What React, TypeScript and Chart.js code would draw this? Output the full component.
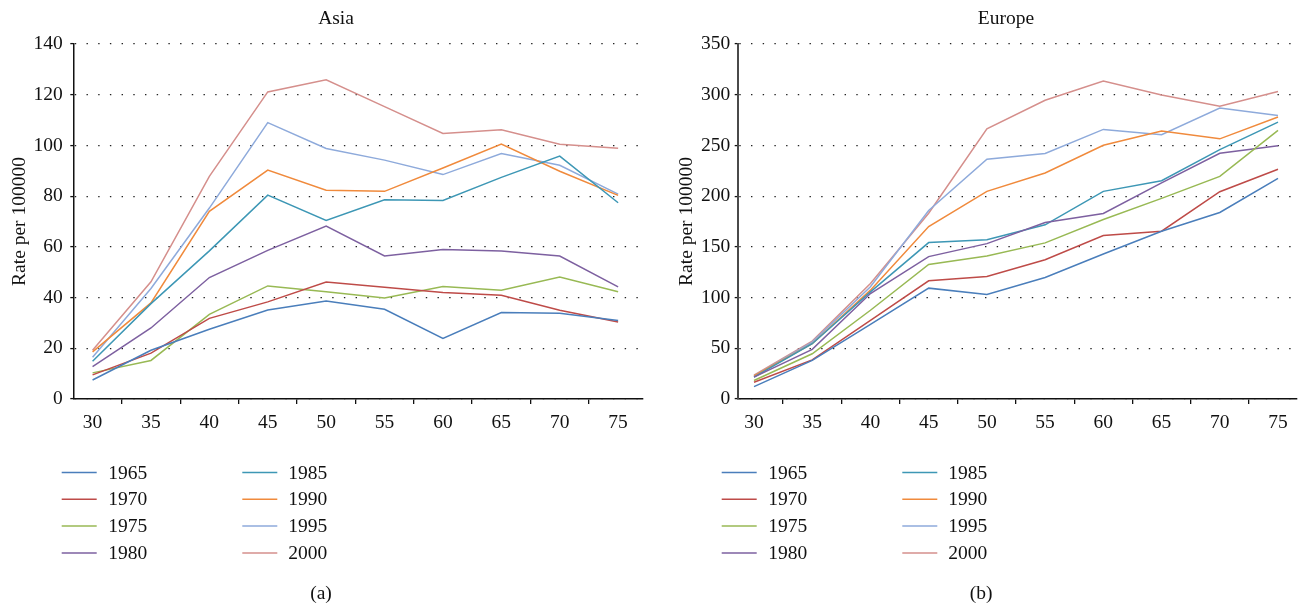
import React, { useEffect, useRef } from "react";
import { Chart, registerables } from "chart.js";

Chart.register(...registerables);

// ---------- data ----------
const ages = [30, 35, 40, 45, 50, 55, 60, 65, 70, 75];
const years = ["1965", "1970", "1975", "1980", "1985", "1990", "1995", "2000"];
const yearColors = ["#4a7ebb", "#be4b48", "#98b954", "#7d60a0", "#3d97b5", "#f08a3c", "#8eaadb", "#d58f8c"];

const asia1965 = [7.5, 19.2, 27.5, 35.1, 38.6, 35.4, 23.9, 34.1, 33.8, 31.0];
const asia1970 = [9.5, 18.1, 31.8, 38.3, 46.1, 44.1, 42.0, 40.9, 35.0, 30.4];
const asia1975 = [10.3, 15.2, 33.4, 44.6, 42.3, 39.8, 44.4, 42.9, 48.1, 42.3];
const asia1980 = [12.8, 28.0, 47.9, 58.6, 68.2, 56.4, 59.0, 58.4, 56.4, 44.2];
const asia1985 = [14.9, 37.6, 58.4, 80.4, 70.4, 78.6, 78.3, 87.4, 95.8, 77.4];
const asia1990 = [18.6, 37.9, 74.0, 90.3, 82.3, 81.9, 91.1, 100.5, 89.8, 80.3];
const asia1995 = [16.5, 43.6, 75.3, 109.0, 98.8, 94.2, 88.5, 96.8, 92.2, 80.8];
const asia2000 = [19.2, 46.2, 87.8, 121.1, 125.9, 115.3, 104.7, 106.2, 100.5, 98.9];

const europe1965 = [12.2, 38.0, 73.6, 109.3, 103.0, 119.8, 143.0, 165.4, 183.9, 217.6];
const europe1970 = [16.5, 38.6, 77.6, 116.5, 120.8, 137.3, 161.1, 165.4, 204.4, 226.5];
const europe1975 = [18.2, 44.6, 87.5, 132.7, 141.0, 153.9, 177.0, 197.8, 219.5, 264.8];
const europe1980 = [21.5, 48.9, 104.0, 140.4, 153.2, 174.0, 182.9, 213.0, 242.3, 249.6];
const europe1985 = [21.5, 54.5, 105.6, 154.2, 157.1, 171.7, 204.7, 215.2, 245.9, 273.0];
const europe1990 = [22.8, 54.5, 107.3, 170.0, 204.7, 222.8, 250.2, 264.1, 256.5, 278.0];
const europe1995 = [22.8, 56.1, 110.6, 185.9, 236.4, 242.0, 265.8, 260.5, 286.9, 279.6];
const europe2000 = [23.4, 57.1, 113.9, 183.2, 266.4, 294.5, 313.6, 299.8, 288.6, 303.1];

const asiaSeries = [asia1965, asia1970, asia1975, asia1980, asia1985, asia1990, asia1995, asia2000];
const europeSeries = [europe1965, europe1970, europe1975, europe1980, europe1985, europe1990, europe1995, europe2000];

const yAxisTitle = "Rate per 100000";

// ---------- layout / style ----------
const FONT = '"Liberation Serif", "Times New Roman", serif';
const FS = 19.5;

type Panel = {
  title: string;
  caption: string;
  series: number[][];
  yMax: number;
  yStep: number;
  left: number;
  width: number;
  xMin: number;
  xMax: number;
  padRight: number;
  yAxisWidth: number;
  titleX: number;
  yTitlePad: number;
  yTickPad: number;
  axisColor: string;
  axisWidth: number;
  lineX: number[];
  textX: number[];
  captionX: number;
};

const panels: Panel[] = [
  {
    title: "Asia", caption: "(a)", series: asiaSeries, yMax: 140, yStep: 20,
    left: 0, width: 664, xMin: 28.35, xMax: 77.07, padRight: 21.7, yAxisWidth: 73.3,
    titleX: 336, yTitlePad: 8.6, yTickPad: 7.6, axisColor: "#111", axisWidth: 1.5,
    lineX: [61.7, 242.3], textX: [108.3, 288.3], captionX: 321,
  },
  {
    title: "Europe", caption: "(b)", series: europeSeries, yMax: 350, yStep: 50,
    left: 664, width: 634, xMin: 28.6, xMax: 76.63, padRight: 1, yAxisWidth: 73.7,
    titleX: 342, yTitlePad: 11.3, yTickPad: 4.5, axisColor: "#4a4a4a", axisWidth: 2,
    lineX: [57.7, 238.3], textX: [104.3, 284.3], captionX: 317,
  },
];

function decorPlugin(p: Panel) {
  return {
    id: "decor" + p.title,
    afterDraw(chart: any) {
      const ctx = chart.ctx as CanvasRenderingContext2D;
      ctx.save();
      ctx.fillStyle = "#111";
      ctx.font = `${FS}px ${FONT}`;
      ctx.textBaseline = "middle";
      ctx.textAlign = "center";
      ctx.fillText(p.title, p.titleX, 19);
      ctx.fillText(p.caption, p.captionX, 594);
      ctx.textAlign = "left";
      chart.data.datasets.forEach((ds: any, i: number) => {
        const col = Math.floor(i / 4);
        const row = i % 4;
        const y = 472.5 + row * 26.8;
        ctx.strokeStyle = ds.borderColor;
        ctx.lineWidth = 1.5;
        ctx.beginPath();
        ctx.moveTo(p.lineX[col], y);
        ctx.lineTo(p.lineX[col] + 35, y);
        ctx.stroke();
        ctx.fillStyle = "#111";
        ctx.fillText(ds.label, p.textX[col], y + 1);
      });
      ctx.restore();
    },
  };
}

function PanelChart({ p }: { p: Panel }) {
  const ref = useRef<HTMLCanvasElement | null>(null);
  useEffect(() => {
    if (!ref.current) return;
    const chart = new Chart(ref.current, {
      type: "line",
      data: {
        datasets: p.series.map((vals, i) => ({
          label: years[i],
          data: vals.map((v, j) => ({ x: ages[j], y: v })),
          borderColor: yearColors[i],
          backgroundColor: yearColors[i],
          borderWidth: 1.5,
          pointRadius: 0,
          pointHoverRadius: 0,
          tension: 0,
          fill: false,
        })),
      },
      options: {
        animation: false,
        responsive: false,
        maintainAspectRatio: false,
        events: [],
        layout: { padding: { left: 0, top: 44, right: p.padRight, bottom: 176 } },
        plugins: {
          legend: { display: false },
          title: { display: false },
          tooltip: { enabled: false },
        },
        scales: {
          x: {
            type: "linear",
            min: p.xMin,
            max: p.xMax,
            afterBuildTicks: (scale: any) => {
              scale.ticks = ages.map((v) => ({ value: v }));
            },
            afterFit: (scale: any) => {
              scale.height = 30;
            },
            border: { display: true, color: "#111", width: 1.5 },
            grid: {
              display: true,
              drawOnChartArea: false,
              drawTicks: true,
              offset: true,
              tickLength: 5,
              color: "#111",
              lineWidth: 1.3,
              tickBorderDash: [],
            },
            ticks: {
              autoSkip: false,
              maxRotation: 0,
              padding: 7,
              color: "#111",
              font: { family: FONT, size: FS },
              callback: (v: any) => String(v),
            },
          },
          y: {
            type: "linear",
            min: 0,
            max: p.yMax,
            afterFit: (scale: any) => {
              scale.width = p.yAxisWidth;
            },
            border: { display: true, color: p.axisColor, width: p.axisWidth, dash: [1.4, 10.3], dashOffset: -12 },
            grid: {
              display: true,
              drawOnChartArea: true,
              drawTicks: true,
              tickLength: 3,
              color: "#222",
              lineWidth: 1.2,
              tickColor: "#111",
              tickWidth: 1.3,
              tickBorderDash: [],
            },
            ticks: {
              stepSize: p.yStep,
              padding: p.yTickPad,
              color: "#111",
              font: { family: FONT, size: FS },
            },
            title: {
              display: true,
              text: yAxisTitle,
              color: "#111",
              font: { family: FONT, size: FS },
              padding: { top: p.yTitlePad, bottom: 0 },
            },
          },
        },
      },
      plugins: [decorPlugin(p)],
    } as any);
    return () => chart.destroy();
  }, [p]);
  return (
    <canvas
      ref={ref}
      width={p.width}
      height={605}
      style={{ position: "absolute", left: p.left, top: 0, width: p.width, height: 605, display: "block" }}
    />
  );
}

export default function App() {
  return (
    <div style={{ position: "fixed", left: 0, top: 0, width: 1298, height: 605, background: "#fff", overflow: "hidden" }}>
      {panels.map((p) => (
        <PanelChart key={p.title} p={p} />
      ))}
    </div>
  );
}
